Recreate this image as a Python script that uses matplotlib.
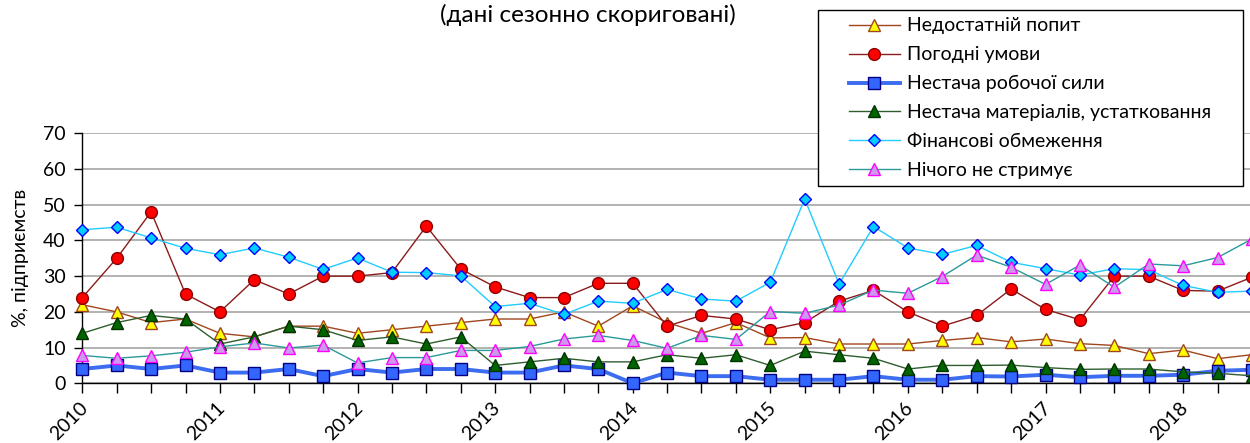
import matplotlib
matplotlib.use("Agg")
import matplotlib.pyplot as plt
from matplotlib.patches import Rectangle
import numpy as np

plt.rcParams['font.family'] = ['Lato', 'DejaVu Sans']

# Quarterly observations, 2010 Q1 .. 2018 Q3
years = ['2010', '2011', '2012', '2013', '2014', '2015', '2016', '2017', '2018']

demand = [22, 20, 17, 18, 14, 13, 16, 16, 14, 15,
          16, 17, 18, 18, 20, 16, 21.7, 17, 14, 17,
          12.7, 12.8, 11, 11, 11, 12, 12.8, 11.6, 12.4, 11.1,
          10.6, 8.3, 9.3, 6.9, 8]
weather = [24, 35, 48, 25, 20, 29, 25, 30, 30, 31,
           44, 32, 27, 24, 24, 28, 28, 16, 19, 18,
           15, 17, 23, 26, 20, 16, 19, 26.4, 20.7, 17.8,
           30, 30, 26, 25.8, 29.7]
labour = [4, 5, 4, 5, 3, 3, 4, 2, 4, 3,
          4, 4, 3, 3, 5, 4, 0, 3, 2, 2,
          1, 1, 1, 2, 1, 1, 2, 1.9, 2.4, 1.7,
          2.1, 2.1, 2.4, 3.5, 3.8]
materials = [14, 17, 19, 18, 11, 13, 16, 15, 12, 13,
             11, 13, 5, 6, 7, 6, 6, 8, 7, 8,
             5, 9, 8, 7, 4, 5, 5, 5.1, 4.4, 3.9,
             4, 4, 3.2, 2.8, 2.1]
finance = [43, 43.7, 40.7, 37.8, 36, 37.9, 35.3, 31.9, 35.1, 31.1,
           31, 30.1, 21.5, 22.4, 19.3, 23, 22.4, 26.3, 23.6, 23,
           28.3, 51.6, 27.8, 43.9, 37.9, 36.1, 38.6, 33.9, 32.1, 30.3,
           32.1, 31.8, 27.4, 25.5, 25.8]
nothing = [7.8, 7, 7.7, 8.7, 10.2, 11.3, 9.9, 10.7, 5.7, 7.2,
           7.2, 9.2, 9.2, 10.3, 12.4, 13.4, 12, 9.8, 13.4, 12.3,
           20.1, 19.6, 21.9, 26.1, 25.2, 29.9, 35.9, 32.5, 27.7, 33.1,
           26.9, 33.4, 32.9, 35.2, 40.4]

labels = ['Недостатній попит', 'Погодні умови', 'Нестача робочої сили',
          'Нестача матеріалів, устатковання', 'Фінансові обмеження',
          'Нічого не стримує']

x = np.arange(len(demand))

fig = plt.figure(figsize=(12.5, 4.43), dpi=100)
W, H = 1250, 443
left, right = 82.3, 82.3 + 34 * 34.4
bottom, top = 383.3, 133.3
ax = fig.add_axes([left / W, 1 - bottom / H, (right - left) / W, (bottom - top) / H])

styles = [
    dict(data=demand, color='#A0461E', lw=1.0, marker='^', ms=8.5, mfc='#FFFF00', mec='#A0461E'),
    dict(data=weather, color='#8B1A1A', lw=1.0, marker='o', ms=8.5, mfc='#FF0000', mec='#8B0000'),
    dict(data=labour, color='#3C6CF0', lw=2.8, marker='s', ms=8, mfc='#3366FF', mec='#000080'),
    dict(data=materials, color='#2E5E2E', lw=1.0, marker='^', ms=8.5, mfc='#006400', mec='#003300'),
    dict(data=finance, color='#22CCFF', lw=1.0, marker='D', ms=6.5, mfc='#00CCFF', mec='#0000FF'),
    dict(data=nothing, color='#2A9A9A', lw=1.0, marker='^', ms=8.5, mfc='#CC99EE', mec='#FF00FF'),
]

handles = []
for s, lab in zip(styles, labels):
    h, = ax.plot(x, s['data'], color=s['color'], lw=s['lw'], marker=s['marker'],
                 ms=s['ms'], mfc=s['mfc'], mec=s['mec'], mew=1.0, label=lab,
                 clip_on=False, zorder=3)
    handles.append(h)

ax.set_xlim(0, 34)
ax.set_ylim(0, 70)
ax.set_yticks(np.arange(0, 71, 10))
ax.yaxis.grid(True, color='#A6A6A6', lw=1.2)
ax.set_axisbelow(True)
for sp in ['top', 'right']:
    ax.spines[sp].set_visible(False)
for sp in ['left', 'bottom']:
    ax.spines[sp].set_color('black')
    ax.spines[sp].set_linewidth(1.0)

ax.set_xticks(x)
ax.set_xticklabels(['' for _ in x])
ax.tick_params(axis='x', direction='out', length=7, width=1, color='black')
ax.tick_params(axis='y', direction='out', length=6, width=1, color='black',
               labelsize=14, pad=6)
for i, yr in enumerate(years):
    ax.text(4 * i - 0.1, -4.5, yr, rotation=45, ha='right', va='top',
            fontsize=14, rotation_mode='anchor')

ax.set_ylabel('%, підприємств', fontsize=14, labelpad=10)

fig.text(588 / W, 1 - 15 / H, '(дані сезонно скориговані)', ha='center',
         va='center', fontsize=17.5)

# Legend box with wider side margins than top/bottom
box = Rectangle((818 / W, 1 - 186 / H), (1243 - 818) / W, (186 - 10) / H,
                transform=fig.transFigure, facecolor='white', edgecolor='black',
                lw=1.0, zorder=4)
fig.patches.append(box)
leg = fig.legend(handles, labels, loc='upper left',
                 bbox_to_anchor=(849 / W, 1 - 17.5 / H),
                 bbox_transform=fig.transFigure,
                 frameon=False, fontsize=14,
                 handlelength=2.62, handletextpad=0.36, labelspacing=0.61,
                 borderpad=0, borderaxespad=0)
leg.set_zorder(5)

fig.savefig('out.png', dpi=100)
